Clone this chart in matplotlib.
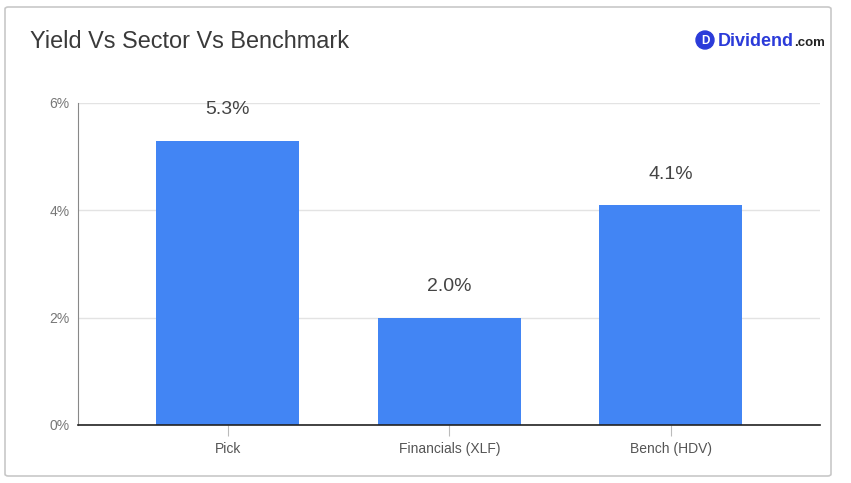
import matplotlib

matplotlib.use("Agg")
import matplotlib.pyplot as plt
import numpy as np
from matplotlib.patches import FancyBboxPatch, Ellipse

plt.rcParams["font.family"] = ["Liberation Sans", "DejaVu Sans"]

CATEGORIES = ["Pick", "Financials (XLF)", "Bench (HDV)"]
YIELDS = [5.3, 2.0, 4.1]
Y_TICKS = [0, 2, 4, 6]

BAR_COLOR = "#4285f4"
TEXT = "#444444"
W, H = 851, 483

fig = plt.figure(figsize=(W / 100, H / 100), dpi=100)
fig.patch.set_facecolor("white")

# card frame
card = FancyBboxPatch((5 / W, 1 - 476 / H), 826 / W, 469 / H,
                      boxstyle="round,pad=0,rounding_size=0.004",
                      transform=fig.transFigure, fill=False,
                      ec="#c8c8c8", lw=1.2)
fig.patches.append(card)

# axes: x 78..820, y 103..425 px
ax = fig.add_axes([78 / W, 1 - 425 / H, 742 / W, 322 / H])
xs = np.arange(len(CATEGORIES))
ax.bar(xs, YIELDS, width=0.646, color=BAR_COLOR, zorder=3)
for x, v in zip(xs, YIELDS):
    ax.annotate(f"{v:.1f}%", (x, v), xytext=(0, 16), textcoords="offset points",
                ha="center", va="bottom", fontsize=14, color=TEXT)

ax.set_xlim(-0.677, 2.673)
ax.set_ylim(0, 6)
ax.set_yticks(Y_TICKS)
ax.set_yticklabels([f"{t}%" for t in Y_TICKS], fontsize=10, color="#777777")
ax.tick_params(axis="y", length=0, pad=6)
ax.set_xticks(xs)
ax.set_xticklabels(CATEGORIES, fontsize=10, color="#555555")
ax.tick_params(axis="x", length=8, color="#bbbbbb", pad=4, direction="out")
ax.grid(axis="y", color="#e3e3e3", lw=1, zorder=0)
for s in ("top", "right"):
    ax.spines[s].set_visible(False)
ax.spines["left"].set_color("#888888")
ax.spines["left"].set_linewidth(0.8)
ax.spines["bottom"].set_color("#222222")
ax.spines["bottom"].set_linewidth(1.2)
ax.spines["bottom"].set_zorder(4)

fig.text(30 / W, 1 - 42 / H, "Yield Vs Sector Vs Benchmark", fontsize=16.9,
         color="#3a3a3a", va="center", ha="left")

# logo
logo_blue = "#2b3bd9"
cx, cy, r = 705, 40, 9
fig.patches.append(Ellipse((cx / W, 1 - cy / H), 2 * r / W, 2 * r / H,
                           transform=fig.transFigure, color=logo_blue))
fig.text(cx / W, 1 - (cy + 0.5) / H, "D", fontsize=8.5, fontweight="bold",
         color="white", ha="center", va="center")
base = 1 - 46 / H
t = fig.text(718 / W, base, "Dividend", fontsize=13, fontweight="bold",
             color=logo_blue, ha="left", va="baseline")
fig.canvas.draw()
bb = t.get_window_extent()
fig.text(bb.x1 / W, base, ".com", fontsize=9.5,
         fontweight="bold", color="#222222", ha="left", va="baseline")

fig.savefig("out.png", dpi=100)
